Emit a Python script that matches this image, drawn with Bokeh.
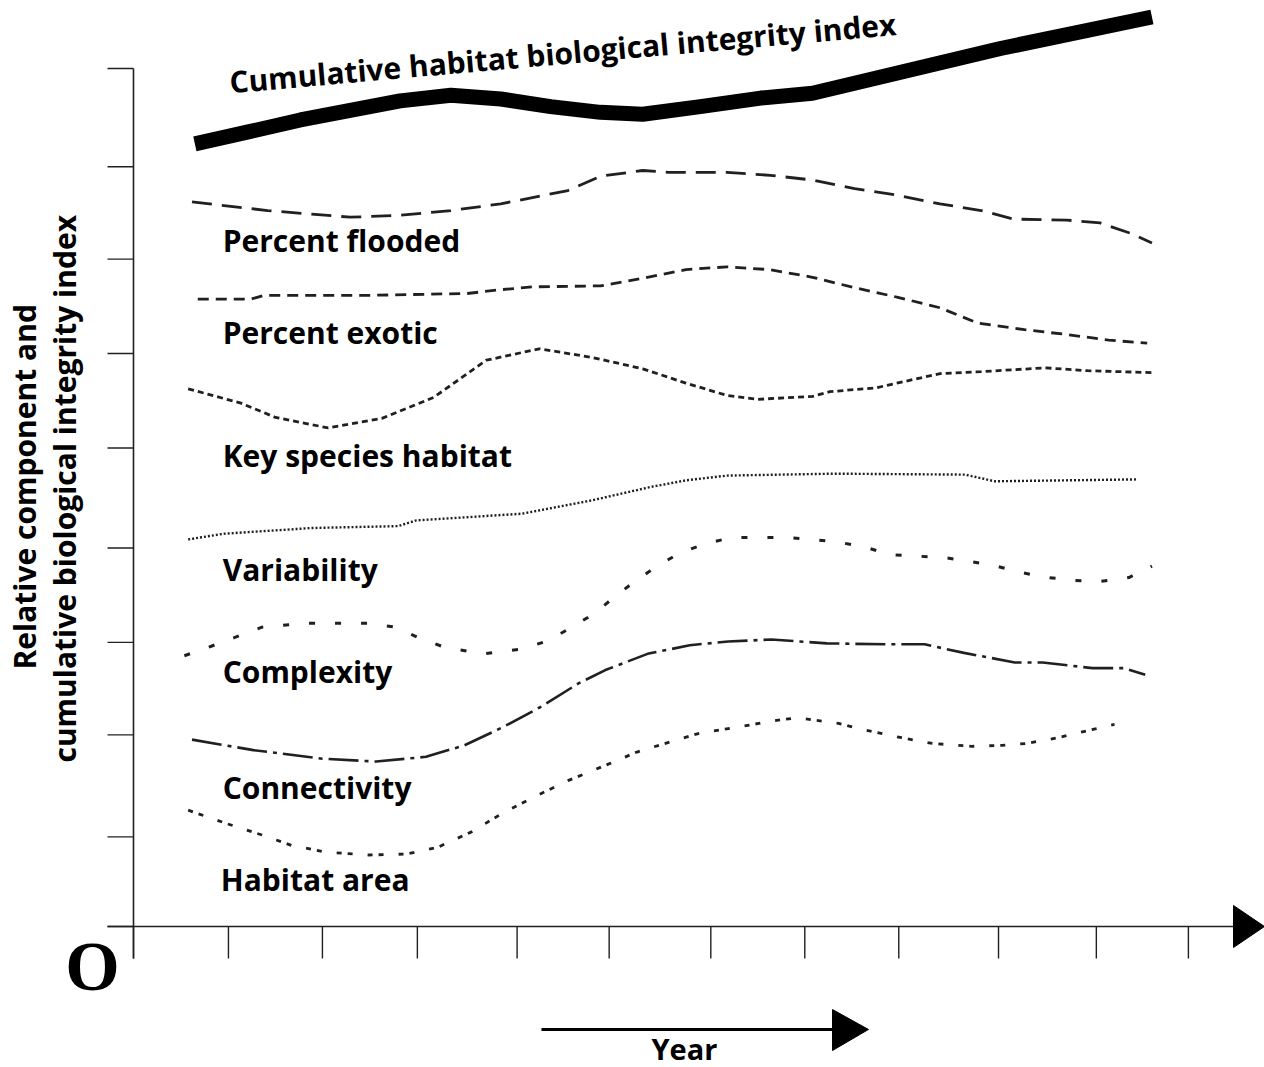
import math
from bokeh.plotting import figure
from bokeh.models import Range1d
from bokeh.core.properties import value
from bokeh.embed import file_html
from bokeh.resources import INLINE

# ---------------- data (x in years, y in relative index units) ----------------
X_TICKS = [0.0, 0.99, 1.97, 2.96, 4.00, 4.96, 6.02, 7.00, 7.98, 9.02, 10.04, 11.00]
Y_TICKS = [0.0, 0.94, 2.01, 2.98, 3.97, 5.02, 6.01, 7.00, 7.97, 9.00]

cum_x = [0.64, 1.22, 1.74, 2.26, 2.78, 3.31, 3.83, 4.35, 4.87, 5.31, 5.91, 6.54, 7.08, 8.00, 9.04, 10.62]
cum_y = [8.21, 8.34, 8.46, 8.56, 8.66, 8.72, 8.68, 8.60, 8.54, 8.52, 8.60, 8.69, 8.74, 8.96, 9.21, 9.54]

flooded_x = [0.61, 1.40, 2.26, 2.78, 3.31, 3.83, 4.53, 4.87, 5.31, 5.58, 6.19, 6.64, 7.08, 7.52,
             7.97, 8.41, 8.84, 9.18, 9.73, 10.08, 10.40, 10.62]
flooded_y = [7.60, 7.51, 7.44, 7.46, 7.51, 7.58, 7.72, 7.87, 7.93, 7.91, 7.91, 7.88, 7.83, 7.74,
             7.67, 7.58, 7.51, 7.42, 7.41, 7.38, 7.27, 7.17]

exotic_x = [0.67, 1.22, 1.36, 2.44, 3.48, 3.83, 4.17, 4.87, 5.31, 5.76, 6.19, 6.64, 7.08, 7.52,
            7.97, 8.41, 8.80, 9.29, 9.73, 10.17, 10.57]
exotic_y = [6.58, 6.58, 6.62, 6.62, 6.64, 6.68, 6.71, 6.72, 6.80, 6.89, 6.92, 6.89, 6.81, 6.70,
            6.60, 6.49, 6.33, 6.26, 6.21, 6.15, 6.12]

key_x = [0.57, 1.12, 1.48, 2.03, 2.59, 3.13, 3.68, 4.23, 4.78, 5.31, 5.76, 6.19, 6.51, 7.08,
         7.26, 7.74, 8.41, 8.84, 9.51, 9.95, 10.62]
key_y = [5.64, 5.49, 5.34, 5.23, 5.33, 5.55, 5.94, 6.06, 5.97, 5.85, 5.70, 5.57, 5.53, 5.56,
         5.61, 5.65, 5.80, 5.82, 5.86, 5.83, 5.81]

var_x = [0.57, 0.94, 1.86, 2.76, 2.95, 4.05, 4.78, 5.39, 5.76, 6.19, 7.30, 8.67, 8.98, 10.47]
var_y = [4.06, 4.12, 4.18, 4.20, 4.26, 4.33, 4.47, 4.61, 4.68, 4.73, 4.75, 4.74, 4.67, 4.69]

cplx_x = [0.53, 0.81, 1.05, 1.34, 1.77, 2.45, 2.73, 2.97, 3.24, 3.65, 4.05, 4.33, 4.57, 4.80,
          5.02, 5.24, 5.46, 5.70, 5.98, 6.24, 6.80, 7.08, 7.36, 7.63, 7.89, 8.45, 8.72, 9.00,
          9.27, 9.54, 9.82, 10.09, 10.38, 10.62]
cplx_y = [2.84, 2.94, 3.03, 3.14, 3.18, 3.18, 3.14, 3.03, 2.93, 2.86, 2.91, 3.00, 3.14, 3.28,
          3.46, 3.63, 3.78, 3.92, 4.02, 4.08, 4.08, 4.06, 4.03, 3.98, 3.90, 3.87, 3.83, 3.78,
          3.71, 3.66, 3.63, 3.62, 3.66, 3.78]

conn_x = [0.61, 1.25, 1.97, 2.53, 3.05, 3.45, 3.85, 4.24, 4.64, 4.92, 5.36, 5.80, 6.20, 6.65,
          7.23, 7.84, 8.25, 8.66, 9.19, 9.48, 10.00, 10.33, 10.55]
conn_y = [1.96, 1.85, 1.76, 1.73, 1.78, 1.90, 2.09, 2.30, 2.55, 2.69, 2.86, 2.95, 2.99, 3.01,
          2.97, 2.96, 2.96, 2.87, 2.77, 2.77, 2.71, 2.71, 2.64]

area_x = [0.57, 0.97, 1.34, 1.65, 2.01, 2.45, 2.85, 3.17, 3.52, 3.85, 4.16, 4.53, 4.92, 5.25,
          5.64, 5.91, 6.29, 6.69, 6.92, 7.35, 7.63, 8.01, 8.33, 8.74, 9.06, 9.31, 9.64, 9.97, 10.23]
area_y = [1.22, 1.08, 0.96, 0.85, 0.78, 0.75, 0.76, 0.83, 0.99, 1.19, 1.35, 1.53, 1.69, 1.83,
          1.95, 2.03, 2.09, 2.16, 2.19, 2.13, 2.06, 1.98, 1.92, 1.89, 1.90, 1.92, 1.98, 2.06, 2.12]

SERIES_LABELS = ["Percent flooded", "Percent exotic", "Key species habitat", "Variability",
                 "Complexity", "Connectivity", "Habitat area"]
LABEL_X = [0.93, 0.93, 0.93, 0.93, 0.93, 0.93, 0.91]
LABEL_Y = [7.20, 6.23, 4.94, 3.74, 2.68, 1.46, 0.49]

TITLE_TEXT = "Cumulative habitat biological integrity index"
YLABEL_LINES = ["Relative component and", "cumulative biological integrity index"]
XLABEL = "Year"
ORIGIN_LABEL = "O"

# ---------------- layout ----------------
W, H = 1264, 1067
XS, YS = 95.9, 95.333          # pixels per unit
OX, OY = 133, 926              # canvas position of the origin

p = figure(width=W, height=H,
           x_range=Range1d(-OX / XS, (W - OX) / XS),
           y_range=Range1d(-(H - OY) / YS, OY / YS),
           x_axis_type=None, y_axis_type=None,
           min_border=0, toolbar_location=None, output_backend="svg",
           outline_line_color=None, background_fill_color="white",
           border_fill_color="white")

INK = "#231f20"
FONT = value("Open Sans")

# ---------------- axes (drawn through the data scales) ----------------
tick_len_x = 32 / YS
tick_len_y = 26 / XS
x_axis_end = 1100 / XS
x_tip = 1131 / XS
p.segment(x0=[-tick_len_y], y0=[0], x1=[x_axis_end], y1=[0], line_color=INK, line_width=1.6)
p.segment(x0=[0], y0=[-tick_len_x], x1=[0], y1=[Y_TICKS[-1]], line_color=INK, line_width=1.6)
p.segment(x0=X_TICKS, y0=[0] * len(X_TICKS), x1=X_TICKS, y1=[-tick_len_x] * len(X_TICKS),
          line_color=INK, line_width=1.4)
p.segment(x0=[-tick_len_y] * len(Y_TICKS), y0=Y_TICKS, x1=[0] * len(Y_TICKS), y1=Y_TICKS,
          line_color=INK, line_width=1.4)
p.patch(x=[x_axis_end, x_tip, x_axis_end], y=[21 / YS, 0, -21 / YS], fill_color="black",
        line_color="black")

# ---------------- series ----------------
p.line(cum_x, cum_y, line_color="black", line_width=15, line_join="round")
p.line(flooded_x, flooded_y, line_color=INK, line_width=2.8, line_dash="20 10")
p.line(exotic_x, exotic_y, line_color=INK, line_width=2.8, line_dash="11 7")
p.line(key_x, key_y, line_color=INK, line_width=2.8, line_dash="6 4")
p.line(var_x, var_y, line_color=INK, line_width=2.4, line_dash="2 2")
p.line(cplx_x, cplx_y, line_color=INK, line_width=3, line_dash="6 20")
p.line(conn_x, conn_y, line_color=INK, line_width=2.6, line_dash="30 6 4 6")
p.line(area_x, area_y, line_color=INK, line_width=2.8, line_dash="5 6 5 15")

# ---------------- texts ----------------
p.text(x=LABEL_X, y=LABEL_Y, text=SERIES_LABELS, text_font=FONT, text_font_style="bold",
       text_font_size="30px", text_align="left", text_baseline="alphabetic", text_color="black")

p.text(x=[1.00], y=[8.86], text=[TITLE_TEXT], angle=math.radians(5), text_font=FONT,
       text_font_style="bold", text_font_size="30px", text_align="left",
       text_baseline="alphabetic", text_color="black")

p.text(x=[-1.137, -0.719], y=[2.696, 1.720], text=YLABEL_LINES, angle=math.pi / 2,
       text_font=FONT, text_font_style="bold", text_font_size="30px", text_align="left",
       text_baseline="alphabetic", text_color="black")

p.text(x=[-0.428], y=[-0.42], text=[ORIGIN_LABEL], text_font=value("Liberation Serif"),
       text_font_style="bold", text_font_size="70px", text_align="center",
       text_baseline="alphabetic", text_color="black")

# year arrow
p.segment(x0=[4.254], y0=[-1.080], x1=[7.32], y1=[-1.080], line_color="black", line_width=3)
p.patch(x=[7.289, 7.664, 7.289], y=[-0.871, -1.080, -1.301], fill_color="black", line_color="black")
p.text(x=[5.745], y=[-1.28], text=[XLABEL], text_font=FONT, text_font_style="bold",
       text_font_size="29px", text_align="center", text_baseline="alphabetic", text_color="black")

open("out.html", "w").write(file_html(p, INLINE, title="Habitat biological integrity index"))
